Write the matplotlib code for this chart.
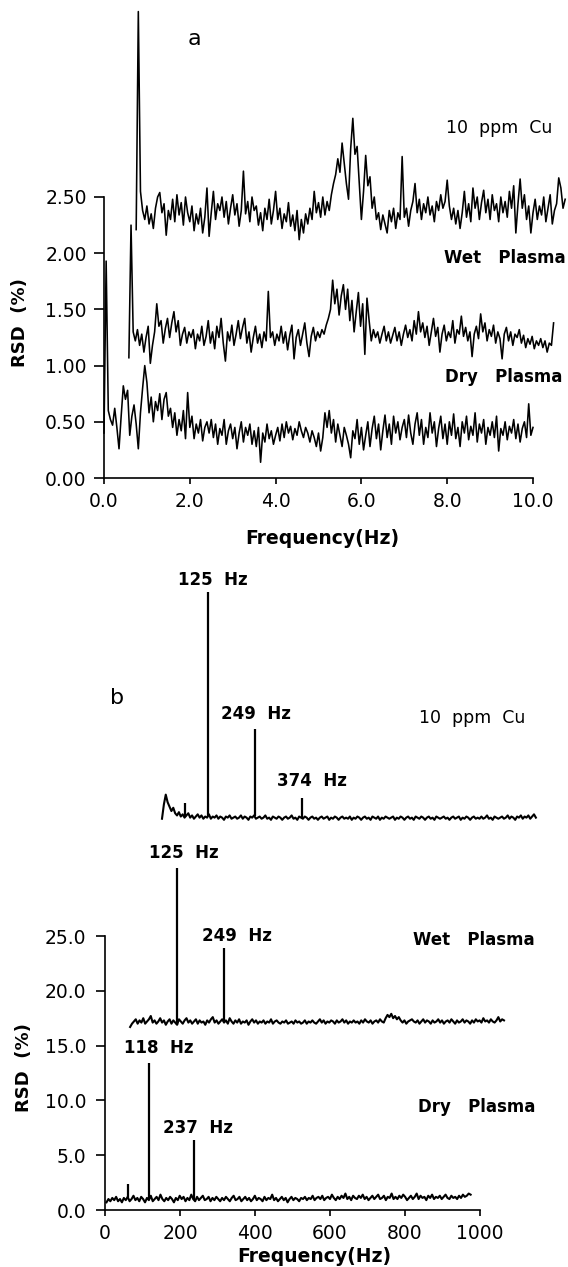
import numpy as np
import matplotlib
matplotlib.use("Agg")
import matplotlib.pyplot as plt

# ---------------- panel a : 0-10 Hz noise spectra (stacked display) ----------------
dry_a_start, dry_a_end = 0.0, 10.0
dry_a = [0.40, 1.93, 0.60, 0.52, 0.47, 0.62, 0.45, 0.26, 0.55, 0.82,
         0.70, 0.78, 0.38, 0.55, 0.65, 0.48, 0.26, 0.58, 0.80, 1.00,
         0.85, 0.58, 0.72, 0.50, 0.68, 0.60, 0.75, 0.52, 0.70, 0.76,
         0.55, 0.62, 0.45, 0.58, 0.38, 0.52, 0.42, 0.60, 0.35, 0.76,
         0.45, 0.55, 0.35, 0.48, 0.40, 0.52, 0.33, 0.45, 0.50, 0.40,
         0.52, 0.36, 0.48, 0.30, 0.44, 0.38, 0.52, 0.30, 0.42, 0.48,
         0.35, 0.45, 0.26, 0.40, 0.50, 0.32, 0.45, 0.38, 0.48, 0.30,
         0.42, 0.28, 0.45, 0.14, 0.40, 0.32, 0.48, 0.35, 0.42, 0.30,
         0.38, 0.45, 0.33, 0.48, 0.36, 0.50, 0.40, 0.46, 0.34, 0.44,
         0.38, 0.50, 0.42, 0.36, 0.45, 0.40, 0.32, 0.42, 0.36, 0.28,
         0.40, 0.24, 0.36, 0.58, 0.45, 0.60, 0.40, 0.52, 0.32, 0.48,
         0.38, 0.28, 0.45, 0.38, 0.30, 0.18, 0.42, 0.35, 0.52, 0.30,
         0.45, 0.25, 0.38, 0.50, 0.28, 0.44, 0.55, 0.35, 0.48, 0.25,
         0.42, 0.56, 0.36, 0.48, 0.30, 0.55, 0.40, 0.50, 0.34, 0.45,
         0.52, 0.36, 0.56, 0.40, 0.30, 0.48, 0.58, 0.38, 0.52, 0.30,
         0.45, 0.36, 0.58, 0.40, 0.50, 0.28, 0.44, 0.55, 0.35, 0.48,
         0.30, 0.50, 0.38, 0.57, 0.35, 0.45, 0.28, 0.50, 0.40, 0.55,
         0.34, 0.46, 0.38, 0.58, 0.32, 0.48, 0.40, 0.52, 0.30, 0.45,
         0.38, 0.50, 0.36, 0.55, 0.24, 0.44, 0.38, 0.50, 0.34, 0.46,
         0.40, 0.52, 0.35, 0.48, 0.32, 0.44, 0.50, 0.36, 0.66, 0.38,
         0.45]

wet_a_start, wet_a_end = 0.58, 10.48
wet_a = [1.07, 2.25, 1.30, 1.22, 1.32, 1.18, 1.28, 1.12, 1.25, 1.35,
         1.02, 1.18, 1.30, 1.55, 1.35, 1.40, 1.20, 1.33, 1.42, 1.25,
         1.38, 1.48, 1.30, 1.40, 1.18, 1.28, 1.34, 1.20, 1.30, 1.25,
         1.32, 1.15, 1.28, 1.22, 1.35, 1.18, 1.26, 1.40, 1.20, 1.30,
         1.15, 1.35, 1.25, 1.42, 1.20, 1.04, 1.30, 1.22, 1.36, 1.18,
         1.28, 1.40, 1.24, 1.34, 1.42, 1.20, 1.30, 1.12, 1.25, 1.35,
         1.20, 1.28, 1.16, 1.30, 1.22, 1.66, 1.25, 1.30, 1.18, 1.28,
         1.22, 1.35, 1.20, 1.30, 1.14, 1.27, 1.36, 1.06, 1.25, 1.32,
         1.18, 1.28, 1.38, 1.20, 1.08, 1.26, 1.34, 1.22, 1.30, 1.25,
         1.32, 1.28, 1.36, 1.42, 1.50, 1.76, 1.55, 1.68, 1.45, 1.62,
         1.72, 1.50, 1.68, 1.40, 1.58, 1.30, 1.48, 1.65, 1.35, 1.55,
         1.10, 1.60, 1.40, 1.22, 1.32, 1.25, 1.30, 1.20, 1.28, 1.35,
         1.22, 1.30, 1.20, 1.27, 1.34, 1.22, 1.30, 1.18, 1.28, 1.36,
         1.25, 1.32, 1.22, 1.40, 1.28, 1.48, 1.30, 1.38, 1.25, 1.35,
         1.18, 1.30, 1.42, 1.26, 1.34, 1.12, 1.28, 1.36, 1.22, 1.30,
         1.25, 1.40, 1.20, 1.32, 1.28, 1.44, 1.26, 1.34, 1.22, 1.30,
         1.08, 1.28, 1.35, 1.24, 1.46, 1.30, 1.38, 1.22, 1.32, 1.26,
         1.36, 1.20, 1.30, 1.24, 1.06, 1.28, 1.34, 1.22, 1.30, 1.18,
         1.28, 1.25, 1.32, 1.20, 1.27, 1.16, 1.24, 1.19, 1.26, 1.15,
         1.22, 1.18, 1.24, 1.16, 1.22, 1.12, 1.20, 1.18, 1.38]

cu_a_start, cu_a_end = 0.75, 10.75
cu_a = [2.21, 4.15, 2.55, 2.38, 2.30, 2.42, 2.26, 2.35, 2.22, 2.40,
        2.50, 2.54, 2.36, 2.44, 2.16, 2.38, 2.30, 2.48, 2.28, 2.52,
        2.34, 2.45, 2.25, 2.50, 2.36, 2.28, 2.42, 2.20, 2.35, 2.26,
        2.40, 2.18, 2.32, 2.58, 2.15, 2.36, 2.55, 2.30, 2.44, 2.38,
        2.50, 2.32, 2.46, 2.26, 2.40, 2.52, 2.34, 2.44, 2.24, 2.38,
        2.73, 2.35, 2.46, 2.28, 2.50, 2.38, 2.42, 2.25, 2.36, 2.20,
        2.40, 2.30, 2.48, 2.26, 2.38, 2.55, 2.30, 2.40, 2.22, 2.35,
        2.28, 2.45, 2.24, 2.34, 2.20, 2.38, 2.12, 2.30, 2.18, 2.35,
        2.26, 2.40, 2.30, 2.55, 2.36, 2.45, 2.32, 2.50, 2.34, 2.46,
        2.38, 2.52, 2.62, 2.70, 2.84, 2.72, 2.98, 2.80, 2.62, 2.48,
        2.93, 3.20, 2.88, 2.95, 2.63, 2.30, 2.55, 2.87, 2.60, 2.68,
        2.40, 2.50, 2.30, 2.36, 2.21, 2.34, 2.26, 2.18, 2.38, 2.28,
        2.40, 2.22, 2.36, 2.30, 2.86, 2.32, 2.40, 2.24, 2.38, 2.46,
        2.62, 2.36, 2.48, 2.30, 2.44, 2.36, 2.50, 2.34, 2.42, 2.28,
        2.46, 2.38, 2.52, 2.40, 2.46, 2.65, 2.42, 2.30, 2.40, 2.26,
        2.38, 2.22, 2.36, 2.55, 2.32, 2.44, 2.28, 2.58, 2.40, 2.50,
        2.30, 2.45, 2.56, 2.36, 2.48, 2.30, 2.52, 2.38, 2.44, 2.28,
        2.50, 2.36, 2.46, 2.32, 2.55, 2.40, 2.60, 2.18, 2.44, 2.66,
        2.40, 2.52, 2.30, 2.42, 2.18, 2.36, 2.48, 2.30, 2.42, 2.34,
        2.50, 2.28, 2.40, 2.52, 2.26, 2.38, 2.44, 2.67, 2.58, 2.40,
        2.48]

# ---------------- panel b : 0-1000 Hz spectra (own frequency axis, then stacked) ----------------
dry_b_start, dry_b_end = 4, 975
dry_b = [0.7, 1.0, 0.8, 1.1, 0.9, 1.2, 0.8, 1.0, 0.7, 1.1,
         0.9, 1.2, 0.8, 1.0, 1.3, 0.9, 1.1, 0.8, 1.2, 1.0,
         0.7, 1.1, 0.9, 1.3, 0.8, 1.0, 1.2, 0.9, 1.4, 1.0,
         0.8, 1.1, 0.9, 1.2, 1.0, 0.7, 1.1, 0.9, 1.3, 1.0,
         1.2, 0.8, 1.1, 0.9, 1.4, 1.0, 0.8, 1.2, 0.9, 1.1,
         1.3, 0.9, 1.0, 1.2, 0.8, 1.1, 0.9, 1.2, 1.0, 0.8,
         1.1, 0.9, 1.2, 1.0, 0.8, 1.1, 1.3, 0.9, 1.0, 1.2,
         0.8, 1.0, 1.2, 0.9, 1.1, 0.8, 1.0, 1.3, 0.9, 1.1,
         1.0, 0.8, 1.2, 0.9, 1.1, 1.0, 1.4, 0.9, 1.1, 0.8,
         1.0, 1.2, 0.9, 1.1, 0.7, 1.0, 1.2, 0.9, 1.1, 1.0,
         0.8, 1.1, 1.0, 1.2, 0.9, 1.1, 1.0, 1.3, 0.9, 1.1,
         1.2, 1.0, 1.3, 0.9, 1.1, 1.2, 1.0, 1.4, 1.1, 0.9,
         1.2, 1.0, 1.3, 1.1, 1.5, 1.0, 1.2, 0.9, 1.3, 1.1,
         1.0, 1.3, 1.1, 1.4, 1.0, 1.2, 0.9, 1.1, 1.3, 1.0,
         1.2, 1.4, 1.0, 1.1, 1.3, 0.9, 1.2, 1.1, 1.5, 1.0,
         1.2, 1.0, 1.3, 1.1, 1.4, 1.2, 0.9, 1.1, 1.3, 1.0,
         1.2, 1.5, 1.0, 1.3, 1.1, 1.2, 0.9, 1.3, 1.1, 1.4,
         1.0, 1.2, 1.1, 1.3, 1.0, 1.2, 1.4, 1.1, 1.0, 1.3,
         1.1, 1.2, 1.0, 1.3, 1.1, 1.4, 1.2, 1.3, 1.5, 1.4]
dry_b_peak_hz = [60, 118, 237]
dry_b_peak_rsd = [2.4, 13.4, 6.4]

wet_b_start, wet_b_end = 0, 997
wet_b = [0.6, 0.9, 1.1, 1.3, 0.9, 1.2, 1.0, 1.4, 0.9, 1.1,
         1.3, 1.6, 1.0, 1.2, 0.9, 1.1, 1.4, 1.0, 1.2, 0.8,
         1.1, 1.3, 0.9, 1.2, 1.0, 0.8, 1.3, 1.1, 0.9, 1.2,
         1.4, 1.0, 1.2, 0.9, 1.1, 1.3, 0.9, 1.2, 1.0, 1.1,
         0.8, 1.2, 1.0, 1.3, 1.5, 1.0, 1.2, 0.9, 1.1, 1.3,
         1.0, 1.2, 0.9, 1.4, 1.1, 0.9, 1.2, 1.0, 1.3, 0.9,
         1.1, 1.0, 1.2, 0.8, 1.1, 1.3, 1.0, 1.2, 0.9, 1.1,
         1.0, 1.2, 0.9, 1.1, 1.0, 1.3, 0.9, 1.1, 1.2, 1.0,
         0.9, 1.1, 1.0, 1.2, 0.9, 1.0, 1.1, 0.9, 1.2, 1.0,
         1.1, 0.9, 1.0, 1.2, 0.9, 1.1, 1.0, 1.2, 1.0, 0.9,
         1.1, 1.3, 1.0, 1.2, 0.9, 1.1, 1.0, 1.2, 1.1, 0.9,
         1.2, 1.0, 1.1, 1.3, 1.0, 1.2, 0.9, 1.1, 1.0, 1.2,
         1.0, 1.1, 0.9, 1.2, 1.0, 1.3, 1.1, 1.0, 1.2, 0.9,
         1.1, 1.2, 1.0, 1.3, 1.1, 1.0, 1.4, 1.7, 1.5, 1.8,
         1.4, 1.6, 1.3, 1.5, 1.2, 1.0, 1.2, 0.9, 1.1, 1.2,
         1.3, 1.1, 1.0, 1.2, 0.9, 1.1, 1.3, 1.0, 1.2, 1.1,
         0.9, 1.2, 1.0, 1.1, 1.3, 1.0, 1.2, 0.9, 1.1, 1.2,
         1.0, 1.3, 1.1, 0.9, 1.2, 1.0, 1.1, 1.3, 1.0, 1.2,
         1.1, 0.9, 1.2, 1.0, 1.3, 1.1, 1.2, 1.0, 1.4, 1.1,
         1.2, 1.0, 1.3, 1.1, 1.0, 1.2, 1.5, 1.1, 1.3, 1.2]
wet_b_peak_hz = [125, 249]
wet_b_peak_rsd = [15.1, 7.8]

cu_b_start, cu_b_end = 2, 999
cu_b = [0.9, 2.2, 3.1, 2.4, 2.0, 1.6, 1.9, 1.4, 1.2, 1.5,
        1.1, 1.3, 1.0, 1.2, 1.4, 1.0, 1.2, 0.9, 1.1, 1.3,
        1.0, 1.2, 0.9, 1.1, 1.0, 1.3, 0.9, 1.1, 1.0, 1.2,
        0.9, 1.1, 1.0, 0.8, 1.1, 1.0, 1.2, 0.9, 1.0, 1.1,
        0.9, 1.0, 1.2, 0.9, 1.1, 1.0, 0.8, 1.1, 1.0, 1.2,
        0.9, 1.0, 1.1, 0.9, 1.0, 1.2, 0.9, 1.0, 0.8, 1.1,
        1.0, 0.9, 1.1, 1.0, 0.8, 1.0, 1.1, 0.9, 1.0, 1.2,
        0.9, 1.0, 0.8, 1.1, 1.0, 0.9, 1.1, 1.0, 0.8, 1.0,
        1.1, 0.9, 1.0, 0.8, 1.0, 1.1, 0.9, 1.0, 1.1, 0.8,
        1.0, 0.9, 1.1, 1.0, 0.8, 1.0, 1.1, 0.9, 1.0, 0.9,
        1.1, 0.8, 1.0, 0.9, 1.1, 1.0, 0.8, 1.0, 1.1, 0.9,
        1.0, 0.8, 1.1, 1.0, 0.9, 1.1, 0.8, 1.0, 0.9, 1.1,
        1.0, 0.9, 1.0, 1.1, 0.8, 1.0, 0.9, 1.1, 1.0, 0.8,
        1.0, 1.1, 0.9, 1.0, 0.8, 1.1, 1.0, 0.9, 1.1, 1.0,
        0.8, 1.0, 1.1, 0.9, 1.0, 0.8, 1.1, 1.0, 0.9, 1.0,
        1.1, 0.9, 1.0, 0.8, 1.0, 1.1, 0.9, 1.0, 1.1, 0.8,
        1.0, 0.9, 1.1, 1.0, 0.8, 1.0, 1.1, 0.9, 1.0, 0.9,
        1.1, 0.9, 1.0, 1.2, 0.9, 1.0, 0.8, 1.1, 1.0, 0.9,
        1.0, 1.1, 0.9, 1.0, 1.2, 0.9, 1.1, 1.0, 0.8, 1.1,
        1.0, 1.2, 0.9, 1.1, 1.0, 1.2, 0.9, 1.1, 1.3, 1.0]
cu_b_peak_hz = [63, 125, 249, 374]
cu_b_peak_rsd = [2.3, 21.6, 9.1, 2.8]

# waterfall offsets (Hz, %RSD) used when stacking the panel b traces
wet_b_shift = (67, 16.1)
cu_b_shift = (150, 34.8)

a_yticks = [0.0, 0.5, 1.0, 1.5, 2.0, 2.5]
a_xticks = [0, 2, 4, 6, 8, 10]
b_yticks = [0, 5, 10, 15, 20, 25]
b_xticks = [0, 200, 400, 600, 800, 1000]

# ---------------- figure ----------------
W, H = 568, 1267
fig = plt.figure(figsize=(W / 100, H / 100), dpi=100)


def px_axes(x0px, xppu, xlim, y0px, yppu, ylim):
    """axes rect from pixel position of data origin and pixels per data unit"""
    left = x0px + xlim[0] * xppu
    right = x0px + xlim[1] * xppu
    bottom = y0px - ylim[0] * yppu
    top = y0px - ylim[1] * yppu
    return [left / W, 1 - bottom / H, (right - left) / W, (bottom - top) / H]


def style(ax, xt, yt, xfmt, yfmt, xspan, yspan, ylen, ypad):
    for s in ["top", "right"]:
        ax.spines[s].set_visible(False)
    ax.spines["left"].set_position(("data", 0))
    ax.spines["bottom"].set_position(("data", 0))
    ax.spines["left"].set_bounds(*yspan)
    ax.spines["bottom"].set_bounds(*xspan)
    for s in ["left", "bottom"]:
        ax.spines[s].set_linewidth(1.2)
    ax.set_xticks(xt)
    ax.set_yticks(yt)
    ax.set_xticklabels([xfmt.format(v) for v in xt])
    ax.set_yticklabels([yfmt.format(v) for v in yt])
    ax.tick_params(axis="y", direction="out", length=ylen, width=1.2, pad=ypad, labelsize=13.5)
    ax.tick_params(axis="x", direction="out", length=4, width=1.2, pad=6, labelsize=13.5)
    ax.patch.set_visible(False)


# panel a
xlim_a, ylim_a = (-0.1, 10.85), (-0.05, 4.25)
ax_a = fig.add_axes(px_axes(104, 42.9, xlim_a, 478, 112.4, ylim_a))
ax_a.set_xlim(*xlim_a)
ax_a.set_ylim(*ylim_a)
for start, end, vals in [(dry_a_start, dry_a_end, dry_a),
                         (wet_a_start, wet_a_end, wet_a),
                         (cu_a_start, cu_a_end, cu_a)]:
    ax_a.plot(np.linspace(start, end, len(vals)), vals, color="black", lw=1.15, clip_on=False)
style(ax_a, a_xticks, a_yticks, "{:.1f}", "{:.2f}", (0, 10), (0, 2.5), 7.5, 5)

ax_a.text(2.1, 3.91, "a", fontsize=16, ha="center", va="center")
ax_a.text(9.21, 3.11, "10  ppm  Cu", fontsize=12.5, ha="center", va="center")
ax_a.text(9.35, 1.96, "Wet   Plasma", fontsize=12, fontweight="bold", ha="center", va="center")
ax_a.text(9.32, 0.90, "Dry   Plasma", fontsize=12, fontweight="bold", ha="center", va="center")
fig.text(20 / W, 1 - 323 / H, "RSD  (%)", rotation=90, fontsize=13, fontweight="bold",
         ha="center", va="center")
fig.text(322 / W, 1 - 539 / H, "Frequency(Hz)", fontsize=13.5, fontweight="bold",
         ha="center", va="center")

# panel b
xlim_b, ylim_b = (-10, 1170), (-0.5, 58)
ax_b = fig.add_axes(px_axes(105, 0.375, xlim_b, 1210, 10.96, ylim_b))
ax_b.set_xlim(*xlim_b)
ax_b.set_ylim(*ylim_b)
for start, end, vals, pk_hz, pk_rsd, (dx, dy) in [
        (dry_b_start, dry_b_end, dry_b, dry_b_peak_hz, dry_b_peak_rsd, (0, 0)),
        (wet_b_start, wet_b_end, wet_b, wet_b_peak_hz, wet_b_peak_rsd, wet_b_shift),
        (cu_b_start, cu_b_end, cu_b, cu_b_peak_hz, cu_b_peak_rsd, cu_b_shift)]:
    f = np.linspace(start, end, len(vals))
    v = np.array(vals)
    ax_b.plot(f + dx, v + dy, color="black", lw=1.5, clip_on=False)
    base = np.interp(pk_hz, f, v)
    ax_b.vlines(np.array(pk_hz) + dx, base + dy, np.array(pk_rsd) + dy, color="black", lw=1.6)
style(ax_b, b_xticks, b_yticks, "{:.0f}", "{:.1f}", (0, 1000), (0, 25), 6.5, 7)

hz_kw = dict(fontsize=12, fontweight="bold", ha="center", va="center")
ax_b.text(288, 57.5, "125  Hz", **hz_kw)
ax_b.text(403, 45.3, "249  Hz", **hz_kw)
ax_b.text(552, 39.1, "374  Hz", **hz_kw)
ax_b.text(979, 44.9, "10  ppm  Cu", fontsize=12.5, ha="center", va="center")
ax_b.text(32, 46.7, "b", fontsize=16, ha="center", va="center")
ax_b.text(211, 32.6, "125  Hz", **hz_kw)
ax_b.text(352, 25.0, "249  Hz", **hz_kw)
ax_b.text(984, 24.6, "Wet   Plasma", fontsize=12, fontweight="bold", ha="center", va="center")
ax_b.text(144, 14.8, "118  Hz", **hz_kw)
ax_b.text(248, 7.5, "237  Hz", **hz_kw)
ax_b.text(992, 9.4, "Dry   Plasma", fontsize=12, fontweight="bold", ha="center", va="center")
fig.text(24 / W, 1 - 1068 / H, "RSD  (%)", rotation=90, fontsize=13, fontweight="bold",
         ha="center", va="center")
fig.text(314 / W, 1 - 1257 / H, "Frequency(Hz)", fontsize=13.5, fontweight="bold",
         ha="center", va="center")

fig.savefig("out.png", dpi=100)
